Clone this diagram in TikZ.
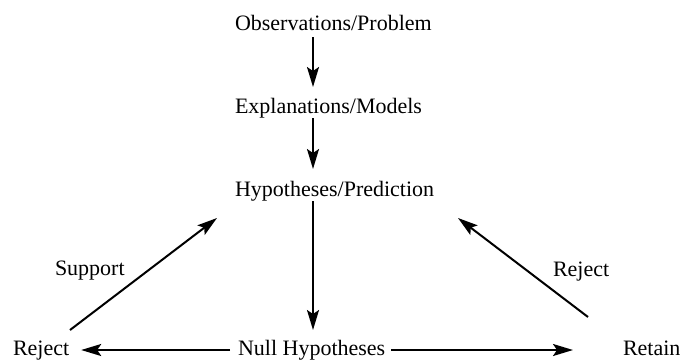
\documentclass[tikz,border=0pt]{standalone}
\usepackage{fontspec}
\setmainfont{Liberation Serif}
\usetikzlibrary{arrows.meta}
\begin{document}
\begin{tikzpicture}[x=1pt,y=-1pt,
  lbl/.style={inner sep=0pt,outer sep=0pt,font=\fontsize{22}{24}\selectfont,text height=15pt,text depth=5pt},
  arr/.style={line width=2pt,-{Stealth[length=20pt,width=12pt,inset=4pt]}}]
\useasboundingbox (0,0) rectangle (683,360);
\node[lbl,anchor=base west] (obs) at (235,30) {Observations/Problem};
\node[lbl,anchor=base west] (expl) at (235,113) {Explanations/Models};
\node[lbl,anchor=base west] (hyp) at (235,196) {Hypotheses/Prediction};
\node[lbl,anchor=base west] (null) at (238,355) {Null Hypotheses};
\node[lbl,anchor=base west] (rejL) at (13,355) {Reject};
\node[lbl,anchor=base west] (ret) at (623,355) {Retain};
\node[lbl,anchor=base west] (sup) at (55,275) {Support};
\node[lbl,anchor=base west] (rejR) at (553,276) {Reject};
\coordinate (ax) at (313,0);
\coordinate (s1) at (70,330);
\coordinate (s2) at (217,218);
\coordinate (r1) at (588,317);
\coordinate (r2) at (458,218);
\draw[arr,shorten <=2pt,shorten >=11pt] (obs.south -| ax) -- (expl.north -| ax);
\draw[arr,shorten <=0pt,shorten >=12pt] (expl.south -| ax) -- (hyp.north -| ax);
\draw[arr,shorten <=0pt,shorten >=10pt] (hyp.south -| ax) -- (null.north -| ax);
\draw[arr,shorten <=8pt,shorten >=12pt] (null.west) -- (rejL.east);
\draw[arr,shorten <=6pt,shorten >=50pt] (null.east) -- (ret.west);
\draw[arr] (s1) -- (s2);
\draw[arr] (r1) -- (r2);
\end{tikzpicture}
\end{document}
